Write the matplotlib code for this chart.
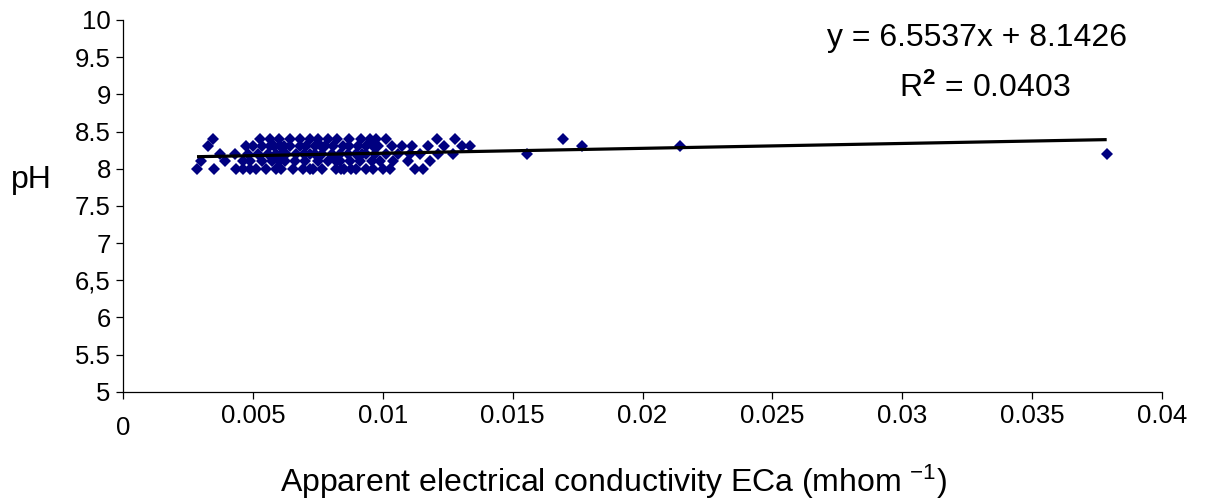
import matplotlib
matplotlib.use("Agg")
import matplotlib.pyplot as plt
from matplotlib.transforms import ScaledTranslation
import numpy as np

plt.rcParams['font.family'] = ['Liberation Sans', 'DejaVu Sans']
plt.rcParams['mathtext.fontset'] = 'custom'
plt.rcParams['mathtext.rm'] = 'Liberation Sans'
plt.rcParams['mathtext.it'] = 'Liberation Sans:italic'
plt.rcParams['mathtext.bf'] = 'Liberation Sans:bold'

# ---- data (ECa in mhom^-1, pH) ----
eca_ph80 = [0.00284, 0.00349, 0.00434, 0.00461, 0.00488, 0.00511, 0.00550, 0.00590,
            0.00607, 0.00654, 0.00692, 0.00720, 0.00731, 0.00765, 0.00819, 0.00838,
            0.00850, 0.00877, 0.00896, 0.00935, 0.00962, 0.01000, 0.01027, 0.01124,
            0.01155]
eca_ph81 = [0.00300, 0.00392, 0.00460, 0.00490, 0.00534, 0.00573, 0.00600, 0.00623,
            0.00661, 0.00700, 0.00750, 0.00789, 0.00820, 0.00835, 0.00873, 0.00912,
            0.00958, 0.00990, 0.01039, 0.01097, 0.01182]
eca_ph82 = [0.00373, 0.00430, 0.00480, 0.00519, 0.00557, 0.00588, 0.00610, 0.00627,
            0.00665, 0.00696, 0.00720, 0.00738, 0.00766, 0.00804, 0.00835, 0.00866,
            0.00896, 0.00920, 0.00935, 0.00970, 0.01012, 0.01058, 0.01104, 0.01143,
            0.01212, 0.01270, 0.01555, 0.03788]
eca_ph83 = [0.00327, 0.00472, 0.00500, 0.00534, 0.00565, 0.00580, 0.00604, 0.00620,
            0.00642, 0.00680, 0.00704, 0.00738, 0.00760, 0.00777, 0.00808, 0.00846,
            0.00870, 0.00904, 0.00935, 0.00960, 0.00981, 0.01035, 0.01073, 0.01112,
            0.01174, 0.01235, 0.01305, 0.01335, 0.01767, 0.02144]
eca_ph84 = [0.00346, 0.00527, 0.00565, 0.00600, 0.00642, 0.00680, 0.00719, 0.00750,
            0.00788, 0.00823, 0.00869, 0.00916, 0.00950, 0.00973, 0.01012, 0.01208,
            0.01278, 0.01694]
ph_levels = [8.0, 8.1, 8.2, 8.3, 8.4]

slope = 6.5537
intercept = 8.1426
eq_text = "y = 6.5537x + 8.1426"
r2_text = r"R$^{\mathbf{2}}$ = 0.0403"

xticks = [0, 0.005, 0.01, 0.015, 0.02, 0.025, 0.03, 0.035, 0.04]
xtick_labels = ["0", "0.005", "0.01", "0.015", "0.02", "0.025", "0.03", "0.035", "0.04"]
yticks = [5, 5.5, 6, 6.5, 7, 7.5, 8, 8.5, 9, 9.5, 10]
ytick_labels = ["5", "5.5", "6", "6,5", "7", "7.5", "8", "8.5", "9", "9.5", "10"]

x_all = []
y_all = []
for lvl, xs in zip(ph_levels, [eca_ph80, eca_ph81, eca_ph82, eca_ph83, eca_ph84]):
    x_all += xs
    y_all += [lvl] * len(xs)
x_all = np.array(x_all)
y_all = np.array(y_all)

fig = plt.figure(figsize=(12.05, 5.0), dpi=100)
ax = fig.add_axes([0.1023, 0.2166, 0.8618, 0.7434])

ax.plot(x_all, y_all, linestyle='none', marker='D', markersize=6.4,
        markerfacecolor='#000080', markeredgewidth=0, zorder=3)

xl = np.array([x_all.min(), x_all.max()])
ax.plot(xl, slope * xl + intercept, color='black', linewidth=2.3, zorder=4,
        solid_capstyle='butt')

ax.set_xlim(0, 0.04)
ax.set_ylim(5, 10)
ax.set_xticks(xticks)
ax.set_xticklabels(xtick_labels)
ax.set_yticks(yticks)
ax.set_yticklabels(ytick_labels)

for s in ['top', 'right']:
    ax.spines[s].set_visible(False)
for s in ['left', 'bottom']:
    ax.spines[s].set_linewidth(0.9)
    ax.spines[s].set_color('black')

ax.tick_params(axis='both', direction='out', length=5, width=0.9, labelsize=18.5)
ax.tick_params(axis='x', pad=4)
ax.tick_params(axis='y', pad=4)

lbl0 = ax.get_xticklabels()[0]
lbl0.set_transform(lbl0.get_transform() + ScaledTranslation(0, -0.12, fig.dpi_scale_trans))

ax.set_xlabel(r"Apparent electrical conductivity ECa (mhom $^{\mathregular{-1}}$)", fontsize=23)
ax.xaxis.set_label_coords(0.4725, -0.243)
ax.xaxis.label.set_verticalalignment('center')

ax.set_ylabel("pH", fontsize=23, rotation=0)
ax.yaxis.set_label_coords(-0.088, 0.5695)
ax.yaxis.label.set_verticalalignment('center')
ax.yaxis.label.set_horizontalalignment('center')

ax.text(0.822, 0.9516, eq_text, transform=ax.transAxes, fontsize=23,
        ha='center', va='center')
ax.text(0.830, 0.8170, r2_text, transform=ax.transAxes, fontsize=23,
        ha='center', va='center')

fig.savefig("out.png", dpi=100)
